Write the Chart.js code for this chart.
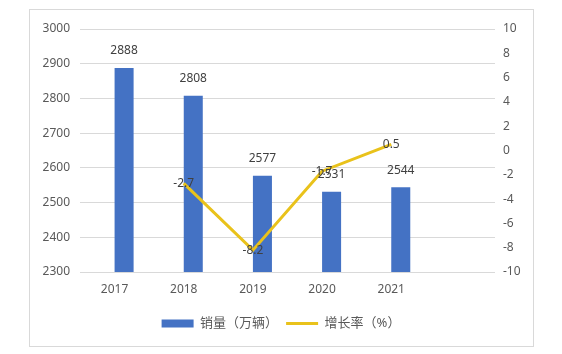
<!DOCTYPE html>
<html>
<head>
<meta charset="utf-8">
<script src="https://cdn.jsdelivr.net/npm/chart.js@4.4.1/dist/chart.umd.min.js"></script>
<style>
  html, body { margin: 0; padding: 0; background: #fff; }
  #wrap { position: relative; width: 562px; height: 354px; }
  #frame {
    position: absolute; left: 29px; top: 9px; width: 505px; height: 338px;
    border: 1px solid #d9d9d9; box-sizing: border-box;
  }
  canvas { position: absolute; left: 0; top: 0; }
</style>
</head>
<body>
<div id="wrap">
  <div id="frame"></div>
  <canvas id="salesChart" width="562" height="354"></canvas>
</div>
<script>
// chart data
const years = ['2017', '2018', '2019', '2020', '2021'];
const sales = [2888, 2808, 2577, 2531, 2544];        // 销量（万辆）
const growth = [null, -2.7, -8.2, -1.7, 0.5];        // 增长率（%）
const salesTicks = [2300, 2400, 2500, 2600, 2700, 2800, 2900, 3000];
const growthTicks = [-10, -8, -6, -4, -2, 0, 2, 4, 6, 8, 10];

const FONT = "'Noto Sans', 'Noto Sans CJK SC', sans-serif";
const BLUE = '#4472c4';
const GOLD = '#e9c21b';

// simple value labels, drawn from the element positions
const valueLabels = {
    id: 'valueLabels',
    afterDatasetsDraw(chart) {
        const ctx = chart.ctx;
        ctx.save();
        ctx.font = '12px ' + FONT;
        ctx.fillStyle = '#404040';
        ctx.textAlign = 'center';
        ctx.textBaseline = 'middle';
        chart.data.datasets.forEach(function(ds, i) {
            if (!ds.label) return;
            const meta = chart.getDatasetMeta(i);
            meta.data.forEach(function(el, j) {
                const v = ds.data[j];
                if (v === null || v === undefined) return;
                if (ds.type === 'bar') {
                    ctx.fillText(String(v), el.x, el.y - 17);
                } else {
                    ctx.fillText(String(v), el.x, el.y);
                }
            });
        });
        ctx.restore();
    }
};

const ctx = document.getElementById('salesChart').getContext('2d');
const salesChart = new Chart(ctx, {
    data: {
        labels: years.concat(['']),
        datasets: [
            {
                // empty slot, pushes the real bars right like the original
                type: 'bar',
                label: '',
                data: [],
                yAxisID: 'y'
            },
            {
                type: 'bar',
                label: '销量（万辆）',
                data: sales,
                backgroundColor: BLUE,
                borderWidth: 0,
                pointStyle: 'rect',
                categoryPercentage: 0.55,
                barPercentage: 1.0,
                yAxisID: 'y',
                order: 2
            },
            {
                type: 'line',
                label: '增长率（%）',
                data: growth,
                borderColor: GOLD,
                backgroundColor: GOLD,
                borderWidth: 3,
                pointRadius: 0,
                pointStyle: 'line',
                tension: 0,
                yAxisID: 'y1',
                order: 1
            }
        ]
    },
    options: {
        responsive: false,
        animation: false,
        layout: {
            padding: { left: 30, right: 30, top: 29, bottom: 14 }
        },
        scales: {
            x: {
                grid: { display: false, drawTicks: false },
                border: { display: false },
                ticks: {
                    color: '#595959',
                    font: { family: FONT, size: 12 },
                    padding: 10
                },
                afterFit: function(scale) { scale.height = 37; }
            },
            y: {
                position: 'left',
                min: 2300,
                max: 3000,
                afterBuildTicks: function(scale) {
                    scale.ticks = salesTicks.map(function(v) { return { value: v }; });
                },
                grid: { color: '#d9d9d9', drawTicks: false },
                border: { display: false },
                ticks: {
                    color: '#595959',
                    font: { family: FONT, size: 12 },
                    padding: 10,
                    callback: function(v) { return String(v); }
                },
                afterFit: function(scale) { scale.width = 50; }
            },
            y1: {
                position: 'right',
                min: -10,
                max: 10,
                afterBuildTicks: function(scale) {
                    scale.ticks = growthTicks.map(function(v) { return { value: v }; });
                },
                grid: { display: false, drawTicks: false },
                border: { display: false },
                ticks: {
                    color: '#595959',
                    font: { family: FONT, size: 12 },
                    padding: 8,
                    callback: function(v) { return String(v); }
                },
                afterFit: function(scale) { scale.width = 37; }
            }
        },
        plugins: {
            tooltip: { enabled: false },
            legend: {
                position: 'bottom',
                labels: {
                    filter: function(item) { return item.text !== ''; },
                    sort: function(a, b) { return a.datasetIndex - b.datasetIndex; },
                    usePointStyle: true,
                    pointStyleWidth: 32,
                    boxHeight: 8,
                    boxWidth: 32,
                    padding: 8,
                    color: '#595959',
                    font: { family: FONT, size: 13 }
                }
            }
        }
    },
    plugins: [valueLabels]
});
</script>
</body>
</html>
